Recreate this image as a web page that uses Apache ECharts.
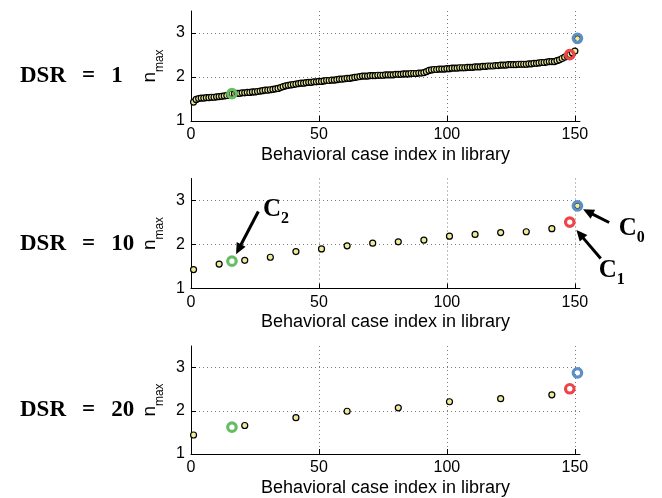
<!DOCTYPE html>
<html>
<head>
<meta charset="utf-8">
<script src="https://cdn.jsdelivr.net/npm/echarts@6/dist/echarts.min.js"></script>
<style>html,body{margin:0;padding:0;background:#fff}#c{width:662px;height:498px}</style>
</head>
<body>
<div id="c"></div>
<script>
// ---------------- data ----------------
const panelTitles = ['DSR = 1', 'DSR = 10', 'DSR = 20'];
const xTicks = [0, 50, 100, 150];
const yTicks = [1, 2, 3];
const xName = 'Behavioral case index in library';

// DSR = 1 : every case in the library (index 1..151)
const dsr1Values = [
  1.43, 1.49, 1.51, 1.52, 1.52, 1.53, 1.53, 1.54, 1.54, 1.55,
  1.555, 1.56, 1.57, 1.58, 1.60, 1.62, 1.62, 1.63, 1.63, 1.64,
  1.64, 1.65, 1.65, 1.66, 1.66, 1.67, 1.68, 1.69, 1.70, 1.70,
  1.71, 1.72, 1.73, 1.74, 1.76, 1.78, 1.80, 1.81, 1.82, 1.83,
  1.84, 1.85, 1.86, 1.86, 1.87, 1.88, 1.88, 1.89, 1.89, 1.90,
  1.90, 1.91, 1.92, 1.92, 1.93, 1.93, 1.94, 1.95, 1.95, 1.96,
  1.97, 1.97, 1.98, 1.99, 2.00, 2.01, 2.02, 2.02, 2.02, 2.03,
  2.03, 2.03, 2.04, 2.04, 2.04, 2.05, 2.05, 2.05, 2.05, 2.06,
  2.06, 2.06, 2.07, 2.07, 2.07, 2.08, 2.08, 2.08, 2.09, 2.09,
  2.10, 2.12, 2.15, 2.16, 2.17, 2.17, 2.18, 2.18, 2.18, 2.19,
  2.19, 2.20, 2.20, 2.20, 2.21, 2.21, 2.21, 2.22, 2.22, 2.22,
  2.23, 2.23, 2.23, 2.24, 2.24, 2.25, 2.25, 2.25, 2.26, 2.26,
  2.27, 2.27, 2.27, 2.28, 2.28, 2.28, 2.28, 2.29, 2.29, 2.29,
  2.29, 2.30, 2.30, 2.31, 2.31, 2.32, 2.33, 2.33, 2.34, 2.35,
  2.35, 2.35, 2.37, 2.39, 2.42, 2.45, 2.48, 2.51, 2.55, 2.59,
  2.87
];
// DSR = 10 : every 10th case
const dsr10Index = [1, 11, 21, 31, 41, 51, 61, 71, 81, 91, 101, 111, 121, 131, 141, 151];
const dsr10Values = [1.43, 1.555, 1.64, 1.71, 1.84, 1.90, 1.97, 2.03, 2.06, 2.10, 2.19, 2.23, 2.27, 2.29, 2.36, 2.88];
// DSR = 20 : every 20th case
const dsr20Index = [1, 21, 41, 61, 81, 101, 121, 141];
const dsr20Values = [1.44, 1.66, 1.84, 1.99, 2.07, 2.21, 2.28, 2.37];

// highlighted cases C2 (green), C1 (red), C0 (blue)
const highlightIndex = [16, 148, 151];
const highlightValues = [1.62, 2.51, 2.88];

// annotations (drawn in the DSR = 10 panel, in data coordinates)
const annoSub = ['2', '0', '1'];
const annoTail = [[26.3, 2.75], [163.4, 2.50], [160.1, 1.68]];
const annoTip = [[17.6, 1.78], [153.2, 2.80], [150.6, 2.33]];
const annoText = [[33.2, 2.74], [172.2, 2.31], [164.4, 1.35]];

// ---------------- styles ----------------
const ringColors = ['#66bd63', '#ee4449', '#5b8fc6'];
const pointFill = '#ecec9a';
const sans = '"Liberation Sans", Arial, Helvetica, sans-serif';
const serif = '"Liberation Serif", "Times New Roman", serif';
const grids = [
  { left: 191, top: 11, width: 389, height: 110 },
  { left: 191, top: 178.5, width: 389, height: 110 },
  { left: 191, top: 346, width: 389, height: 110.5 }
];

const chart = echarts.init(document.getElementById('c'), null, { renderer: 'canvas' });

function xAxisCfg(i) {
  return {
    type: 'value', gridIndex: i, min: 0, max: 152, interval: 50,
    axisLine: { show: true, onZero: false, lineStyle: { color: '#000', width: 1 } },
    axisTick: { show: true, inside: true, length: 5, customValues: xTicks, lineStyle: { color: '#000' } },
    axisLabel: { show: true, customValues: xTicks, color: '#000', fontSize: 16, fontFamily: sans, margin: 6 },
    splitLine: { show: true, showMinLine: false, showMaxLine: true, lineStyle: { color: '#7a7a7a', type: [1, 3], width: 1 } },
    name: xName, nameLocation: 'middle', nameGap: 25,
    nameTextStyle: { color: '#000', fontSize: 18, fontFamily: sans }
  };
}
function yAxisCfg(i) {
  return {
    type: 'value', gridIndex: i, min: 1, max: 3.5, interval: 1,
    axisLine: { show: true, onZero: false, lineStyle: { color: '#000', width: 1 } },
    axisTick: { show: true, inside: true, length: 5, customValues: yTicks, lineStyle: { color: '#000' } },
    axisLabel: { show: true, customValues: yTicks, color: '#000', fontSize: 16, fontFamily: sans, margin: 6 },
    splitLine: { show: true, showMinLine: false, showMaxLine: true, lineStyle: { color: '#7a7a7a', type: [1, 3], width: 1 } },
    name: '{n|n}{s|max}', nameLocation: 'middle', nameGap: 22, nameRotate: 90,
    nameTextStyle: {
      color: '#000', fontFamily: sans,
      rich: {
        n: { fontSize: 19, fontFamily: sans, color: '#000', padding: [0, 0, 6, 0], verticalAlign: 'bottom' },
        s: { fontSize: 12, fontFamily: sans, color: '#000', verticalAlign: 'bottom' }
      }
    }
  };
}

function pointSeries(i, xs, ys) {
  return {
    type: 'scatter', xAxisIndex: i, yAxisIndex: i, clip: false, z: 2,
    symbol: 'circle', symbolSize: 6,
    itemStyle: { color: pointFill, borderColor: '#000', borderWidth: 1.2, opacity: 1 },
    data: xs.map((x, k) => [x, ys[k]])
  };
}
function ringSeries(i) {
  return {
    type: 'scatter', xAxisIndex: i, yAxisIndex: i, clip: false, z: 3,
    symbol: 'circle', symbolSize: 8.5,
    itemStyle: { color: 'rgba(0,0,0,0)', borderWidth: 3.2, opacity: 1 },
    data: highlightIndex.map((x, k) => ({
      value: [x, highlightValues[k]],
      itemStyle: { borderColor: ringColors[k] }
    }))
  };
}

const allIndex = dsr1Values.map((v, k) => k + 1);

chart.setOption({
  animation: false,
  backgroundColor: '#fff',
  grid: grids,
  xAxis: [0, 1, 2].map(xAxisCfg),
  yAxis: [0, 1, 2].map(yAxisCfg),
  series: [
    pointSeries(0, allIndex, dsr1Values), ringSeries(0),
    pointSeries(1, dsr10Index, dsr10Values), ringSeries(1),
    pointSeries(2, dsr20Index, dsr20Values), ringSeries(2)
  ]
});

// ----- annotations & panel titles, placed through the chart's own scales -----
const graphics = [];
panelTitles.forEach((t, i) => {
  const mid = chart.convertToPixel({ gridIndex: i }, [0, 2.0])[1];
  graphics.push({
    type: 'text', left: 20, top: mid - 12,
    style: { text: t.replace(/ = /, '\u2002\u2009=\u2002\u2009'), font: 'bold 23px ' + serif, fill: '#000' }
  });
});

function arrow(p0, p1) {
  const dx = p1[0] - p0[0], dy = p1[1] - p0[1];
  const len = Math.sqrt(dx * dx + dy * dy);
  const ux = dx / len, uy = dy / len;
  const nx = -uy, ny = ux;
  const hl = 11, hw = 5;
  const bx = p1[0] - ux * hl, by = p1[1] - uy * hl;
  return [
    { type: 'line', shape: { x1: p0[0], y1: p0[1], x2: bx + ux * 1, y2: by + uy * 1 },
      style: { stroke: '#000', lineWidth: 3 }, z: 10 },
    { type: 'polygon', shape: { points: [[p1[0], p1[1]], [bx + nx * hw, by + ny * hw], [bx - nx * hw, by - ny * hw]] },
      style: { fill: '#000' }, z: 10 }
  ];
}

annoSub.forEach((s, k) => {
  const tail = chart.convertToPixel({ gridIndex: 1 }, annoTail[k]);
  const tip = chart.convertToPixel({ gridIndex: 1 }, annoTip[k]);
  const tp = chart.convertToPixel({ gridIndex: 1 }, annoText[k]);
  arrow(tail, tip).forEach(g => graphics.push(g));
  graphics.push({
    type: 'text', x: tp[0], y: tp[1], z: 10,
    style: {
      text: '{c|C}{s|' + s + '}', align: 'center', verticalAlign: 'middle',
      rich: {
        c: { font: 'bold 25px ' + serif, fill: '#000', padding: [0, 0, 5, 0], verticalAlign: 'bottom' },
        s: { font: 'bold 16px ' + serif, fill: '#000', verticalAlign: 'bottom' }
      }
    }
  });
});

chart.setOption({ graphic: graphics });
</script>
</body>
</html>
